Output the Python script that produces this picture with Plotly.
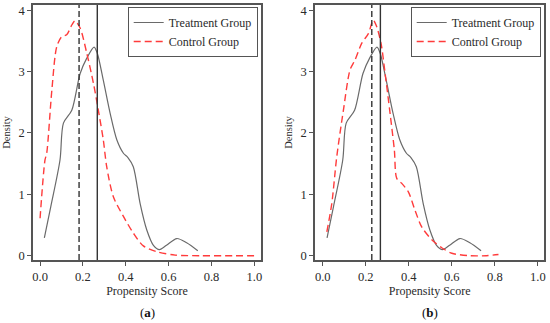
import plotly.graph_objects as go

# Treatment group density (same in both panels)
treat_x = [0.020, 0.050, 0.093, 0.109, 0.148, 0.187, 0.218, 0.252, 0.267, 0.295, 0.327, 0.358, 0.389, 0.410, 0.435, 0.467, 0.498, 0.529, 0.557, 0.590, 0.638, 0.684, 0.736]
treat_y = [0.29, 0.80, 1.56, 2.16, 2.37, 2.97, 3.22, 3.40, 3.30, 2.86, 2.32, 1.89, 1.67, 1.60, 1.45, 0.85, 0.42, 0.17, 0.10, 0.17, 0.28, 0.21, 0.08]

# Control group density, panel (a) (before matching)
ctrl_a_x = [0.000, 0.023, 0.031, 0.055, 0.078, 0.101, 0.124, 0.148, 0.163, 0.187, 0.218, 0.249, 0.272, 0.295, 0.311, 0.342, 0.389, 0.435, 0.482, 0.545, 0.630, 0.750, 0.900, 1.000]
ctrl_a_y = [0.61, 1.56, 1.67, 2.70, 3.41, 3.57, 3.60, 3.76, 3.83, 3.71, 3.30, 2.81, 2.37, 1.89, 1.45, 0.96, 0.64, 0.37, 0.16, 0.065, 0.01, 0.00, 0.00, 0.00]

# Control group density, panel (b) (after matching)
ctrl_b_x = [0.019, 0.042, 0.065, 0.096, 0.127, 0.150, 0.181, 0.212, 0.235, 0.251, 0.271, 0.290, 0.313, 0.333, 0.344, 0.367, 0.398, 0.429, 0.460, 0.507, 0.553, 0.600, 0.680, 0.760, 0.817]
ctrl_b_y = [0.39, 0.85, 1.61, 2.37, 3.03, 3.19, 3.46, 3.62, 3.84, 3.73, 3.46, 2.97, 2.32, 1.72, 1.26, 1.18, 1.04, 0.74, 0.47, 0.26, 0.13, 0.04, 0.00, 0.00, 0.02]

# Means (vertical reference lines)
treat_mean = [0.267, 0.268]
ctrl_mean = [0.182, 0.228]

x_ticks = [0.0, 0.2, 0.4, 0.6, 0.8, 1.0]
x_ticktext = ["0.0", "0.2", "0.4", "0.6", "0.8", "1.0"]
y_ticks = [0, 1, 2, 3, 4]
panel_labels = ["(<b>a</b>)", "(<b>b</b>)"]

W, H = 550, 323
FONT = "Liberation Serif, Times New Roman, serif"
GRAY = "#6a6a6a"
RED = "#ff3b3b"
AX = "#555555"
TXT = "#2a2a2a"

fig = go.Figure()

panels = [
    dict(xa="x", ya="y", cx=ctrl_a_x, cy=ctrl_a_y, legend="legend"),
    dict(xa="x2", ya="y2", cx=ctrl_b_x, cy=ctrl_b_y, legend="legend2"),
]
for i, p in enumerate(panels):
    fig.add_trace(go.Scatter(x=treat_x, y=treat_y, mode="lines", name="Treatment Group",
                             line=dict(color=GRAY, width=1.2, shape="spline", smoothing=0.8),
                             xaxis=p["xa"], yaxis=p["ya"], legend=p["legend"]))
    fig.add_trace(go.Scatter(x=p["cx"], y=p["cy"], mode="lines", name="Control Group",
                             line=dict(color=RED, width=1.4, dash="7px,4px", shape="spline", smoothing=0.8),
                             xaxis=p["xa"], yaxis=p["ya"], legend=p["legend"]))
    xr = p["xa"]
    fig.add_shape(type="line", xref=xr, yref=f"{p['ya']} domain", x0=ctrl_mean[i], x1=ctrl_mean[i], y0=0, y1=1,
                  line=dict(color="#333333", width=1.4, dash="6px,3px"))
    fig.add_shape(type="line", xref=xr, yref=f"{p['ya']} domain", x0=treat_mean[i], x1=treat_mean[i], y0=0, y1=1,
                  line=dict(color="#333333", width=1.4))

yd = [1 - 260 / H, 1 - 5 / H]
common_x = dict(tickvals=x_ticks, ticktext=x_ticktext, ticks="outside", ticklen=4, tickcolor=AX,
                showline=True, linecolor=AX, linewidth=1.5, mirror=True, showgrid=False, zeroline=False,
                automargin=False,
                tickfont=dict(family=FONT, size=12.5, color=TXT),
                title=dict(text="Propensity Score", font=dict(family=FONT, size=12, color=TXT), standoff=2))
common_y = dict(tickvals=y_ticks, ticks="outside", ticklen=4, tickcolor=AX,
                showline=True, linecolor=AX, linewidth=1.5, mirror=True, showgrid=False, zeroline=False,
                automargin=False,
                tickfont=dict(family=FONT, size=12.5, color=TXT), range=[-0.07, 4.086], domain=yd,
                title=dict(text="Density", font=dict(family=FONT, size=10.5, color=TXT), standoff=6))

fig.update_layout(
    width=W, height=H, margin=dict(l=0, r=0, t=0, b=0, autoexpand=False),
    paper_bgcolor="white", plot_bgcolor="white",
    xaxis=dict(common_x, domain=[33 / W, 261 / W], range=[-0.033, 1.031], anchor="y"),
    yaxis=dict(common_y, anchor="x"),
    xaxis2=dict(common_x, domain=[315 / W, 544.3 / W], range=[-0.036, 1.030], anchor="y2"),
    yaxis2=dict(common_y, anchor="x2"),
    legend=dict(x=257.7 / W, y=1 - 7 / H, xanchor="right", yanchor="top", xref="paper", yref="paper",
                bordercolor=AX, borderwidth=1, bgcolor="white",
                font=dict(family=FONT, size=12, color=TXT), tracegroupgap=0),
    legend2=dict(x=540.7 / W, y=1 - 7 / H, xanchor="right", yanchor="top", xref="paper", yref="paper",
                 bordercolor=AX, borderwidth=1, bgcolor="white",
                 font=dict(family=FONT, size=12, color=TXT), tracegroupgap=0),
    showlegend=True,
)

for lbl, cx in zip(panel_labels, [147 / W, 430 / W]):
    fig.add_annotation(text=lbl, x=cx, y=1 - 312 / H, xref="paper", yref="paper", showarrow=False,
                       font=dict(family=FONT, size=13, color="#111"), xanchor="center", yanchor="middle")

fig.write_html("out.html", config={"displayModeBar": False},
               post_script="document.body.style.margin='0';document.body.style.padding='0';document.body.style.overflow='hidden';")
